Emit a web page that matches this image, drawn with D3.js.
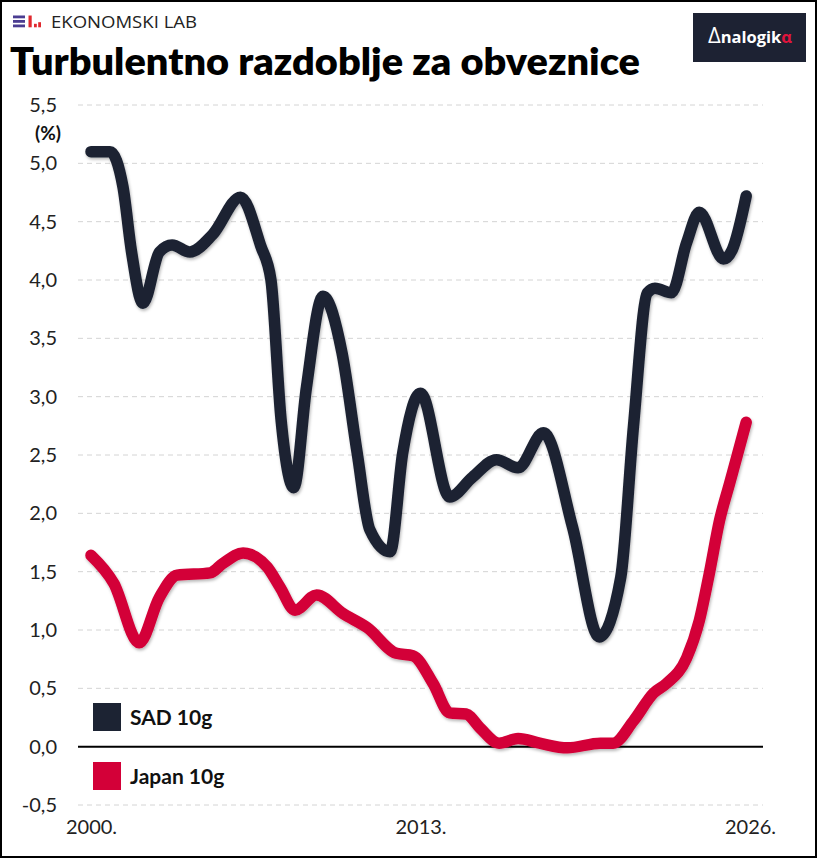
<!DOCTYPE html>
<html>
<head>
<meta charset="utf-8">
<script src="https://cdn.jsdelivr.net/npm/d3@7"></script>
<style>
  body { margin: 0; background: #fff; }
  svg { display: block; font-family: Lato, "Open Sans", sans-serif; }
</style>
</head>
<body>
<svg id="chart" width="817" height="858"></svg>
<script>
// values (10y government bond yields, %)
const sadYears = [2000.0, 2000.75, 2001.26, 2001.6, 2002.05, 2002.7, 2003.2, 2003.9, 2004.8, 2005.9,
  2006.7, 2007.1, 2007.5, 2008.0, 2008.5, 2009.15, 2009.9, 2010.5, 2011.0, 2011.8,
  2012.3, 2013.0, 2014.15, 2015.05, 2016.0, 2016.85, 2017.85, 2019.0, 2020.05, 2020.9,
  2021.4, 2021.95, 2022.25, 2022.9, 2023.5, 2024.0, 2024.95, 2025.3, 2025.85];
const sadValues = [5.10, 5.10, 4.80, 4.24, 3.80, 4.24, 4.30, 4.24, 4.39, 4.71,
  4.29, 4.00, 2.80, 2.22, 3.08, 3.86, 3.38, 2.52, 1.86, 1.67,
  2.52, 3.03, 2.14, 2.31, 2.46, 2.39, 2.69, 1.88, 0.94, 1.45,
  2.74, 3.89, 3.93, 3.89, 4.32, 4.58, 4.18, 4.26, 4.72];

const japanYears = [2000.0, 2000.9, 2001.9, 2002.7, 2003.4, 2004.7, 2005.2, 2006.0, 2006.95, 2007.45,
  2008.05, 2008.9, 2009.95, 2010.9, 2012.05, 2012.7, 2013.5, 2014.15, 2014.8, 2015.35,
  2016.1, 2016.85, 2017.7, 2018.8, 2020.1, 2020.6, 2021.4, 2022.2, 2022.7, 2023.5,
  2024.0, 2024.4, 2024.8, 2025.2, 2025.85];
const japanValues = [1.64, 1.40, 0.89, 1.28, 1.47, 1.49, 1.57, 1.66, 1.54, 1.37,
  1.17, 1.30, 1.14, 1.02, 0.80, 0.78, 0.54, 0.29, 0.28, 0.16,
  0.03, 0.07, 0.03, -0.01, 0.03, 0.03, 0.22, 0.46, 0.54, 0.76,
  1.08, 1.49, 1.94, 2.26, 2.78];

const yTicks = [-0.5, 0, 0.5, 1, 1.5, 2, 2.5, 3, 3.5, 4, 4.5, 5, 5.5];
const xTicks = [2000, 2013, 2026];
const seriesNames = ['SAD 10g', 'Japan 10g'];
const seriesColors = ['#1c2333', '#d30038'];

const svg = d3.select('#chart');

const x = d3.scaleLinear().domain([2000, 2026]).range([91, 750]);
const y = d3.scaleLinear().domain([-0.5, 5.5]).range([805, 105]);
const gridLeft = 78, gridRight = 763;

// shadow under the lines
const defs = svg.append('defs');
defs.append('filter')
    .attr('id', 'shadow')
    .attr('x', '-10%').attr('y', '-10%')
    .attr('width', '120%').attr('height', '120%')
  .append('feDropShadow')
    .attr('dx', 1).attr('dy', 2)
    .attr('stdDeviation', 1.8)
    .attr('flood-color', '#000')
    .attr('flood-opacity', 0.28);

// header: Ekonomski lab logo
const logo = svg.append('g');
[15.5, 20, 24.5].forEach((yy) => {
  logo.append('rect').attr('x', 13).attr('y', yy).attr('width', 12).attr('height', 2.8).attr('fill', '#4b3d91');
});
logo.append('rect').attr('x', 28.5).attr('y', 15.5).attr('width', 3.2).attr('height', 11.8).attr('fill', '#e0282e');
logo.append('rect').attr('x', 34).attr('y', 23.8).attr('width', 2.8).attr('height', 3.5).attr('fill', '#e0282e');
logo.append('rect').attr('x', 38.2).attr('y', 22.2).attr('width', 2.8).attr('height', 5.1).attr('fill', '#e0282e');
logo.append('text')
    .attr('x', 51).attr('y', 27.5)
    .attr('font-family', '"Open Sans", sans-serif')
    .attr('font-size', 15.5)
    .attr('textLength', 146)
    .attr('lengthAdjust', 'spacingAndGlyphs')
    .attr('fill', '#222')
    .text('EKONOMSKI LAB');

// Analogika badge
svg.append('rect').attr('x', 693).attr('y', 13).attr('width', 113).attr('height', 49).attr('fill', '#1d2233');
const badge = svg.append('text')
    .attr('x', 750).attr('y', 43)
    .attr('text-anchor', 'middle')
    .attr('font-family', '"Open Sans", sans-serif')
    .attr('font-weight', 700)
    .attr('font-size', 16.5)
    .attr('fill', '#fff');
badge.append('tspan').attr('font-size', 22).attr('font-weight', 400).text('Δ');
badge.append('tspan').text('nalogik');
badge.append('tspan').attr('fill', '#e0143c').text('α');

// title
svg.append('text')
    .attr('x', 10).attr('y', 75)
    .attr('font-size', 37)
    .attr('font-weight', 800)
    .attr('textLength', 630)
    .attr('lengthAdjust', 'spacingAndGlyphs')
    .attr('fill', '#000')
    .text('Turbulentno razdoblje za obveznice');

// gridlines
svg.append('g')
  .selectAll('line')
  .data(yTicks.filter((t) => t !== 0))
  .join('line')
    .attr('x1', gridLeft).attr('x2', gridRight)
    .attr('y1', (t) => y(t)).attr('y2', (t) => y(t))
    .attr('stroke', '#d4d4d4')
    .attr('stroke-width', 1)
    .attr('stroke-dasharray', '5,4');

svg.append('line')
    .attr('x1', gridLeft).attr('x2', gridRight)
    .attr('y1', y(0)).attr('y2', y(0))
    .attr('stroke', '#000')
    .attr('stroke-width', 2);

// axes
const fmt = (d) => d3.format('.1f')(d).replace('.', ',').replace('−', '-');
const yAxis = svg.append('g')
    .attr('transform', `translate(${gridLeft},0)`)
    .call(d3.axisLeft(y).tickValues(yTicks).tickFormat(fmt).tickSize(0).tickPadding(21));
yAxis.select('.domain').remove();
yAxis.selectAll('text').attr('font-size', 20).attr('fill', '#222').attr('font-family', 'Lato, sans-serif');

const xAxis = svg.append('g')
    .attr('transform', 'translate(0,805)')
    .call(d3.axisBottom(x).tickValues(xTicks).tickFormat((d) => d + '.').tickSize(0).tickPadding(15));
xAxis.select('.domain').remove();
xAxis.selectAll('text').attr('font-size', 20).attr('fill', '#222').attr('font-family', 'Lato, sans-serif');

svg.append('text')
    .attr('x', 61).attr('y', 140)
    .attr('text-anchor', 'end')
    .attr('font-size', 19)
    .attr('font-weight', 700)
    .attr('fill', '#111')
    .text('(%)');

// lines
const line = d3.line()
    .x((d) => x(d[0]))
    .y((d) => y(d[1]))
    .curve(d3.curveMonotoneX);

const series = [
  d3.zip(sadYears, sadValues),
  d3.zip(japanYears, japanValues),
];

svg.append('g')
  .selectAll('path')
  .data(series)
  .join('path')
    .attr('d', line)
    .attr('fill', 'none')
    .attr('stroke', (d, i) => seriesColors[i])
    .attr('stroke-width', 11.5)
    .attr('stroke-linecap', 'round')
    .attr('stroke-linejoin', 'round')
    .attr('filter', 'url(#shadow)');

// legend
const legend = svg.append('g')
  .selectAll('g')
  .data(seriesNames)
  .join('g')
    .attr('transform', (d, i) => `translate(93,${703 + i * 59})`);
legend.append('rect')
    .attr('width', 28).attr('height', 28)
    .attr('fill', (d, i) => seriesColors[i]);
legend.append('text')
    .attr('x', 37).attr('y', 21.5)
    .attr('font-size', 21)
    .attr('font-weight', 700)
    .attr('fill', '#111')
    .text((d) => d);

// frame
svg.append('rect')
    .attr('x', 1).attr('y', 1)
    .attr('width', 815).attr('height', 856)
    .attr('fill', 'none')
    .attr('stroke', '#000')
    .attr('stroke-width', 2);
</script>
</body>
</html>
